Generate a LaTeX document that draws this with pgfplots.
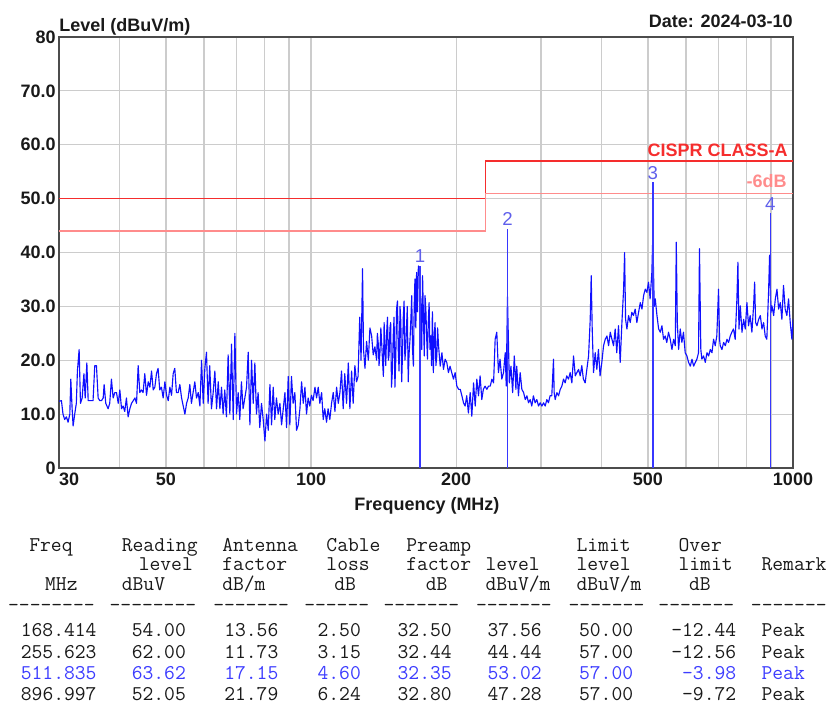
\documentclass[border=0pt]{standalone}
\usepackage{pgfplots}
\pgfplotsset{compat=1.18}
\usepackage{fontspec}
\setmainfont{Liberation Sans}
\definecolor{trace}{RGB}{15,15,255}
\definecolor{mk}{RGB}{55,55,255}
\definecolor{mklab}{RGB}{95,95,235}
\definecolor{lim}{RGB}{245,45,45}
\definecolor{limsix}{RGB}{255,140,140}
\definecolor{tabblue}{RGB}{60,60,255}
\definecolor{txt}{RGB}{25,25,25}
\newcommand\lab{\fontsize{13.5}{16}\selectfont\bfseries}
\newcommand\tabf{\fontsize{15.75}{18}\selectfont\ttfamily\mdseries}
\newcommand\TL[3]{\node[anchor=base west,inner sep=0pt,text=txt] at (#1,#2) {\tabf #3};}
\newcommand\TR[3]{\node[anchor=base east,inner sep=0pt,text=txt] at (#1,#2) {\tabf #3};}
\newcommand\BR[3]{\node[anchor=base east,inner sep=0pt,text=tabblue] at (#1,#2) {\tabf #3};}
\newcommand\BL[3]{\node[anchor=base west,inner sep=0pt,text=tabblue] at (#1,#2) {\tabf #3};}
\newcommand\dsh[1]{\foreach\i in {1,...,#1}{-{}}}
\begin{document}
\begin{tikzpicture}
\begin{scope}[shift={(-44.25pt,351pt)},x=0.75pt,y=-0.75pt]
\useasboundingbox (0,0) rectangle (829,704);
\end{scope}
\begin{axis}[
  at={(0,0)}, anchor=south west,
  scale only axis, width=550.5pt, height=323.25pt,
  xmode=log, xmin=30, xmax=1000, ymin=0, ymax=80,
  xtick={30,50,100,200,500,1000},
  xticklabels={\makebox[0pt][l]{30},50,100,200,500,1000},
  minor xtick={40,60,70,80,90,300,400,600,700,800,900},
  ytick={0,10,20,30,40,50,60,70,80},
  yticklabels={0,10.0,20.0,30.0,40.0,50.0,60.0,70.0,80},
  grid=both,
  major grid style={draw=black!20, line width=0.9pt},
  minor grid style={draw=black!20, line width=0.9pt},
  major tick length=0pt, minor tick length=0pt,
  axis line style={draw=black!70, line width=1.3pt},
  tick label style={font=\lab, text=txt},
  /pgf/number format/assume math mode=true,
  yticklabel style={xshift=1pt},
]
\addplot[lim, line width=1pt] coordinates {(30,50) (230,50) (230,57) (1000,57)};
\addplot[limsix, line width=1pt] coordinates {(30,44) (230,44) (230,51) (1000,51)};
\addplot[trace, line width=0.85pt, line join=round] table[x=f,y=L] {
f L
30.00 12.4
30.35 12.5
30.58 10
30.83 9
31.08 9.5
31.33 8.5
31.59 10
31.74 16.5
31.94 11
32.09 7.8
32.34 10
32.59 12
32.76 18
33.03 22
33.24 12
33.51 13
33.79 17.5
34.00 13
34.27 19.5
34.49 12.5
34.75 12.5
35.30 12.5
35.59 19
35.88 19
36.17 13
36.46 12.5
36.75 12.5
37.05 13
37.22 15.5
37.51 12
37.93 11
38.23 12
38.54 16.5
38.86 13
39.17 14
39.49 14
39.81 12
40.12 14.5
40.44 11
40.75 11.5
41.07 10.5
41.40 13
41.74 9.5
42.08 11
42.42 12
42.77 12.5
43.11 13
43.45 12
43.79 19
44.13 14
44.47 14.5
44.83 14
45.20 17.5
45.57 13.5
45.94 16
46.31 15
46.68 18
47.05 14.5
47.42 15
47.79 17.5
48.16 18.5
48.54 14.5
48.94 15
49.34 13
49.75 16
50.15 13.5
50.55 12.5
50.95 15
51.36 13.5
51.76 17.5
52.16 18.5
52.57 14
53.01 14
53.44 15.5
53.88 13
54.31 11.5
54.74 10
55.18 12
55.61 13
56.05 15.5
56.48 12
56.93 14
57.40 16
57.87 13
58.34 14
58.81 11.5
59.28 20
59.75 12
60.22 18.5
60.69 21.5
61.16 12
61.64 19
62.15 11
62.66 14
63.17 18
63.68 11
64.19 16
64.70 11
65.21 15
65.72 10
66.23 14.5
66.76 9.5
67.31 21
67.86 10
68.41 23
68.96 9
69.51 25
70.06 10
70.61 14
71.16 9
71.72 16
72.29 11
72.89 13
73.49 15
74.08 21.5
74.68 8
75.28 20
75.88 12
76.48 19.5
77.07 10
77.67 14
78.29 7.5
78.94 12
79.58 9
80.23 5
80.88 10
81.52 7
82.17 15.5
82.82 8
83.46 15
84.11 9
84.78 13
85.48 10
86.18 12
86.88 8
87.58 11
88.28 14
88.98 7.5
89.68 17
90.38 8
91.08 17
91.80 12
92.56 14
93.32 7
94.08 8
94.84 11
95.60 16
96.36 12
97.12 15
97.88 10
98.63 13
99.42 11.5
100.2 13.5
101.0 12.5
101.9 15
102.7 13
103.5 15
104.3 12
105.2 14
106.0 9
106.8 11
107.7 8.5
108.5 11
109.4 9
110.3 12
111.2 14
112.1 10.5
113.0 15
113.9 12
114.8 14
115.7 18
116.6 11
117.5 17.5
118.5 12
119.5 19.5
120.4 11
121.4 18
122.3 12
123.3 19
124.3 16
125.2 17
126.2 28
127.0 20
127.9 37
128.5 22
129.4 18.5
130.4 23.5
131.5 20
132.5 26
133.6 24.5
134.6 21
135.7 22.5
136.8 20
137.3 25
137.9 23
138.4 19
139.0 21.5
139.6 26
140.2 23
140.7 20
141.3 17
141.8 27
142.4 22
142.9 19
143.5 25
144.1 28
144.7 20
145.2 21
145.8 26
146.3 27
146.9 15
147.5 18
148.1 24.5
148.7 28
149.3 15
149.9 20
150.5 29.5
151.1 31
151.7 22
152.3 18
153.0 30
153.6 27
154.2 16
154.8 21
155.4 28
156.0 31
156.6 20
157.2 22
157.8 26
158.4 30
159.1 16
159.7 21
160.5 24.0
161.2 28
161.8 32.0
162.4 22
163.1 18.9
163.7 30
164.3 35.1
165.0 26
165.6 36.3
166.3 29
167.0 37.5
168.0 36.5
169.0 29.5
169.7 22
170.4 35.7
171.1 28
171.8 20.8
172.4 32
173.1 29.5
173.8 24
174.4 20.2
175.1 27
175.8 30.7
176.5 22
177.2 24.5
177.9 19
178.6 29.0
179.4 17.7
180.1 24
180.9 27.0
181.6 19
182.4 20.8
183.1 26
183.9 22.7
185.4 18.9
186.9 21.4
188.3 18.3
189.8 20.2
191.3 19.6
192.8 17.7
194.3 18.9
195.9 17.7
197.5 16.5
199.1 17.7
200.7 15.2
202.4 14.6
204.0 14.6
205.6 13.4
207.2 12.1
208.8 11.5
210.4 13.4
212.1 10.2
213.9 14.0
215.6 9.6
217.4 15.8
219.1 11.5
220.8 16.5
222.6 13.4
224.3 17.1
226.1 12.7
227.8 14.6
229.7 15.2
231.6 14.6
233.5 15.2
235.4 15.2
237.3 16.5
239.2 15.8
241.0 23.9
242.9 25.2
244.8 17.7
246.7 20.2
248.8 16.5
250.8 17.7
252.9 21.4
254.1 15.2
255.6 31.8
257.9 15.8
259.9 18.9
262.0 14.0
264.1 20.8
266.1 14.6
267.2 18.9
269.4 13.4
271.6 17.7
273.8 14.6
276.1 14.0
278.3 12.7
280.5 13.4
282.7 12.1
284.9 12.7
287.1 11.5
289.3 13.4
291.7 12.1
294.1 12.7
296.5 11.5
298.9 12.1
301.3 11.5
303.7 12.1
306.1 11.5
308.5 12.7
310.9 12.1
313.3 13.4
315.9 13.4
318.5 20.2
319.5 14.0
321.1 12.7
323.7 14.0
326.3 13.4
328.9 14.6
331.5 15.2
334.1 16.5
336.7 15.8
339.3 17.1
342.1 16.5
344.9 17.7
347.7 15.8
350.5 20.8
353.4 17.1
356.2 17.7
359.0 18.3
361.8 17.1
364.6 19.0
367.4 16.5
370.5 15.8
373.5 18.3
376.6 20.8
379.6 27.6
381.4 35.7
383.2 25.8
385.6 17.7
388.7 21.4
391.8 18.3
394.8 22.0
397.9 17.1
401.2 19.6
404.5 22.7
407.8 23.9
411.1 24.5
414.4 22.7
417.7 25.2
421.0 23.9
424.3 22.7
427.6 25.8
430.9 21.4
434.5 26.4
438.0 19.6
441.6 27.0
445.2 33.2
447.3 40.0
449.4 27.6
452.3 25.8
455.9 28.3
459.5 27.0
463.0 28.9
466.6 28.3
470.5 29.5
474.3 27.0
478.2 28.9
482.1 30.7
486.0 29.5
489.8 32.0
493.7 33.2
497.6 32.6
501.4 34.5
505.3 31.4
509.5 36.3
511.8 43.0
515.4 30.0
517.9 31.4
522.1 28.3
526.3 25.8
530.4 25.2
534.6 26.4
538.8 23.9
543.0 24.5
547.2 23.3
551.7 25.2
556.3 23.9
560.8 22.0
565.4 23.9
569.9 22.7
572.6 41.9
575.4 27.0
579.0 22.0
583.5 25.8
588.1 23.3
592.6 25.2
597.5 21.4
602.4 20.8
607.3 19.6
612.3 18.9
617.2 20.2
622.1 18.9
627.0 19.6
631.9 20.2
636.8 21.4
639.7 40.7
643.8 22.0
647.0 20.2
652.3 20.8
657.7 19.6
663.0 21.4
668.3 20.8
673.6 22.0
679.0 21.4
684.3 23.9
689.6 22.7
694.9 24.5
700.7 33.2
704.1 23.9
706.4 22.7
712.2 22.0
717.9 23.3
723.7 22.7
729.5 23.9
735.2 23.3
741.0 24.5
746.7 25.2
752.5 25.8
758.7 23.9
765.0 31.4
768.7 38.2
772.5 25.8
777.5 30.1
783.7 25.2
790.0 27.6
796.2 25.8
802.4 30.7
808.7 26.4
814.9 28.3
821.7 25.2
828.4 30.1
832.5 34.5
836.5 27.0
841.9 26.4
848.7 27.6
855.5 28.3
862.2 25.8
869.0 27.0
875.7 24.5
882.5 23.9
889.8 32.6
894.2 39.5
900.0 28.9
904.4 30.1
911.7 28.3
919.0 31.4
926.3 33.2
933.6 29.5
941.0 30.7
948.3 27.6
955.6 33.9
963.3 29.5
971.1 28.3
979.0 31.4
986.9 27.0
994.8 23.9
1000 27.6
};
\addplot[ycomb, draw=mk, line width=1.1pt, mark=none, nodes near coords, point meta=explicit symbolic,
  every node near coord/.append style={anchor=south, text=mklab, font=\fontsize{14}{16}\selectfont, inner sep=1.5pt}]
  coordinates {(168.414,37.56) [1] (255.623,44.44) [2] (511.835,53.02) [3] (896.997,47.28) [4]};
\end{axis}
\begin{scope}[shift={(-44.25pt,351pt)},x=0.75pt,y=-0.75pt]
\node[anchor=base west,inner sep=0pt,text=txt,font=\lab] at (59,31.7) {Level (dBuV/m)};
\node[anchor=base east,inner sep=0pt,text=txt,font=\lab] at (793,27.7) {Date: 2024-03-10};
\node[anchor=base,inner sep=0pt,text=txt,font=\lab] at (427,510) {Frequency (MHz)};
\node[anchor=base east,inner sep=0pt,text=lim,font=\lab] at (788,156.7) {CISPR CLASS-A};
\node[anchor=base east,inner sep=0pt,text=limsix,font=\lab] at (787,187.3) {-6dB};
% table header
\TL{29.1}{551}{Freq}\TL{121.6}{551}{Reading}\TL{222}{551}{Antenna}\TL{326.2}{551}{Cable}
\TL{406}{551}{Preamp}\TL{576.3}{551}{Limit}\TL{678.3}{551}{Over}
\TL{138.5}{570}{level}\TL{222}{570}{factor}\TL{326.2}{570}{loss}\TL{406}{570}{factor}
\TL{485.3}{570}{level}\TL{576.3}{570}{level}\TL{678.3}{570}{limit}\TL{761.3}{570}{Remark}
\TL{44.9}{590}{MHz}\TL{121.6}{590}{dBuV}\TL{222}{590}{dB/m}\TL{334.1}{590}{dB}
\TL{425.6}{590}{dB}\TL{485.3}{590}{dBuV/m}\TL{576.3}{590}{dBuV/m}\TL{688.9}{590}{dB}
\TL{7.9}{611}{\dsh{8}}\TL{109.4}{611}{\dsh{8}}\TL{213}{611}{\dsh{7}}\TL{304}{611}{\dsh{6}}
\TL{383.3}{611}{\dsh{7}}\TL{475.8}{611}{\dsh{7}}\TL{568.4}{611}{\dsh{7}}\TL{658.2}{611}{\dsh{7}}\TL{750.7}{611}{\dsh{7}}
% rows
\TR{96.8}{636.5}{168.414}\TR{186.1}{636.5}{54.00}\TR{278.6}{636.5}{13.56}\TR{361.1}{636.5}{2.50}
\TR{452}{636.5}{32.50}\TR{541.9}{636.5}{37.56}\TR{633.4}{636.5}{50.00}\TR{736.5}{636.5}{-12.44}\TL{761.3}{636.5}{Peak}
\TR{96.8}{658}{255.623}\TR{186.1}{658}{62.00}\TR{278.6}{658}{11.73}\TR{361.1}{658}{3.15}
\TR{452}{658}{32.44}\TR{541.9}{658}{44.44}\TR{633.4}{658}{57.00}\TR{736.5}{658}{-12.56}\TL{761.3}{658}{Peak}
\BR{96.8}{679.5}{511.835}\BR{186.1}{679.5}{63.62}\BR{278.6}{679.5}{17.15}\BR{361.1}{679.5}{4.60}
\BR{452}{679.5}{32.35}\BR{541.9}{679.5}{53.02}\BR{633.4}{679.5}{57.00}\BR{736.5}{679.5}{-3.98}\BL{761.3}{679.5}{Peak}
\TR{96.8}{700.5}{896.997}\TR{186.1}{700.5}{52.05}\TR{278.6}{700.5}{21.79}\TR{361.1}{700.5}{6.24}
\TR{452}{700.5}{32.80}\TR{541.9}{700.5}{47.28}\TR{633.4}{700.5}{57.00}\TR{736.5}{700.5}{-9.72}\TL{761.3}{700.5}{Peak}
\end{scope}
\end{tikzpicture}
\end{document}
